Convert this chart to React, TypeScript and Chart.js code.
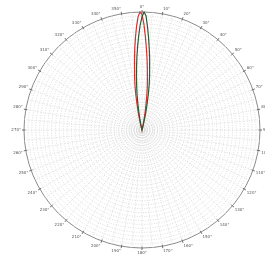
import React, { useEffect, useRef } from "react";
import { Chart, registerables } from "chart.js";

Chart.register(...registerables);

// angle categories, one per degree (0° at top, clockwise)
const angleLabels: string[] = Array.from({ length: 360 }, (_, i) => `${i}°`);
// every 10th angle carries a visible label
const LABEL_EVERY = 10;

// main-lobe samples (degrees relative to boresight) and gain in dB
const redAngles = [-15, -14, -13, -12, -11, -10, -9, -8, -7, -6, -5, -4, -3, -2, -1, 0, 1, 2, 3, 4, 5, 6, 7, 8, 9, 10, 11, 12, 13];
const redGain = [-30, -28.5, -27, -25.2, -23.4, -21, -18.6, -16.5, -14.4, -11.7, -9, -6.3, -3.6, -1.2, 0, -0.6, -3, -6, -9, -11.7, -14.4, -16.8, -18.9, -21.3, -23.7, -25.5, -27.3, -28.8, -30];

const greenAngles = [-13, -12, -11, -10, -9, -8, -7, -6, -5, -4, -3, -2, -1, 0, 1, 2, 3, 4, 5, 6, 7, 8, 9, 10, 11, 12, 13, 14, 15];
const greenGain = [-30, -28.5, -27, -25.5, -23.4, -21, -18.9, -16.5, -14.1, -11.4, -8.7, -6, -3.3, -1.2, 0, -0.9, -3.6, -6.3, -9, -11.4, -14.1, -16.2, -18.3, -20.7, -23.1, -25.2, -27, -28.8, -30];

const FLOOR_DB = -30;
const MAX_DB = 0;

function buildSeries(angles: number[], gains: number[]): number[] {
  const out = angleLabels.map(() => FLOOR_DB);
  angles.forEach((a, k) => {
    const idx = ((a % 360) + 360) % 360;
    out[idx] = gains[k];
  });
  return out;
}

const outerTicksAndLabels = {
  id: "outerTicksAndLabels",
  afterDatasetsDraw(chart: any) {
    const scale = chart.scales.r;
    const ctx = chart.ctx;
    const r = scale.drawingArea;
    ctx.save();
    ctx.strokeStyle = "#6f6f6f";
    ctx.lineWidth = 1;
    ctx.fillStyle = "#555";
    ctx.font = "4px 'DejaVu Sans'";
    for (let i = 0; i < angleLabels.length; i += LABEL_EVERY) {
      const a = scale.getPointPosition(i, r - 1.5);
      const b = scale.getPointPosition(i, r + 2);
      ctx.beginPath();
      ctx.moveTo(a.x, a.y);
      ctx.lineTo(b.x, b.y);
      ctx.stroke();
      const p = scale.getPointPosition(i, r + 3);
      const dx = p.x - scale.xCenter;
      const dy = p.y - scale.yCenter;
      ctx.textAlign = Math.abs(dx) < 3 ? "center" : dx > 0 ? "left" : "right";
      ctx.textBaseline = Math.abs(dy) < 3 ? "middle" : dy > 0 ? "top" : "bottom";
      ctx.fillText(angleLabels[i], p.x, p.y);
    }
    ctx.restore();
  },
};

export default function App() {
  const ref = useRef<HTMLCanvasElement | null>(null);
  useEffect(() => {
    document.body.style.margin = "0";
    const chart = new Chart(ref.current as HTMLCanvasElement, {
      type: "radar",
      data: {
        labels: angleLabels,
        datasets: [
          {
            label: "Co-pol A",
            data: buildSeries(greenAngles, greenGain),
            borderColor: "#2f5a35",
            borderWidth: 1.2,
            backgroundColor: "transparent",
            pointRadius: 0,
            fill: false,
          },
          {
            label: "Co-pol B",
            data: buildSeries(redAngles, redGain),
            borderColor: "#d2322d",
            borderWidth: 1.2,
            backgroundColor: "transparent",
            pointRadius: 0,
            fill: false,
          },
        ],
      },
      options: {
        responsive: false,
        animation: false,
        layout: { padding: { left: 24, right: 5, top: 12, bottom: 9 } },
        plugins: { legend: { display: false }, tooltip: { enabled: false } },
        scales: {
          r: {
            min: FLOOR_DB,
            max: MAX_DB,
            ticks: { display: false, stepSize: 1 },
            grid: {
              circular: true,
              color: (c: any) => (c.index === c.chart.scales.r.ticks.length - 1 ? "#8a8a8a" : "#d9d9d9"),
              lineWidth: 1,
            },
            border: {
              dash: (c: any) => (c.index === c.chart.scales.r.ticks.length - 1 ? [] : [1, 1.5]),
            },
            angleLines: {
              color: "#dcdcdc",
              lineWidth: (c: any) => (c.index % 5 === 0 ? 1 : 0),
              borderDash: [1, 1.5],
            },
            pointLabels: { display: false },
          },
        },
      },
      plugins: [outerTicksAndLabels],
    });
    return () => chart.destroy();
  }, []);
  return (
    <div style={{ position: "absolute", left: 0, top: 0, width: 265, height: 257, background: "#fff" }}>
      <canvas ref={ref} width={265} height={257} />
    </div>
  );
}
